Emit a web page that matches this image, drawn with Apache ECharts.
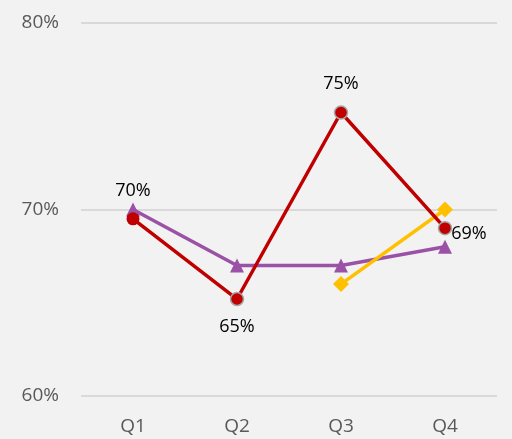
<!DOCTYPE html>
<html><head><meta charset="utf-8">
<script src="https://cdn.jsdelivr.net/npm/echarts@6/dist/echarts.min.js"></script>
<style>html,body{margin:0;padding:0;background:#f2f2f2}#c{width:512px;height:439px}</style>
</head><body><div id="c"></div>
<script>
const categories = ['Q1','Q2','Q3','Q4'];
const redValues = [69.5, 65.2, 75.2, 69.0];
const redLabels = ['70%','65%','75%','69%'];
const purpleValues = [70, 67, 67, 68];
const yellowValues = [null, null, 66, 70];
const yTicks = [60, 70, 80];

const labelPos = ['top','bottom','top','right'];
const labelOffset = [[0, -2], [0, 2], [0, -2], [-11, 6]];
const chart = echarts.init(document.getElementById('c'));
chart.setOption({
  backgroundColor: '#f2f2f2',
  animation: false,
  grid: {left: 81, right: 15, top: 23, bottom: 43},
  xAxis: {
    type: 'category', data: categories, boundaryGap: true,
    axisLine: {show: false}, axisTick: {show: false},
    axisLabel: {color: '#595959', fontSize: 19, margin: 21, fontFamily: 'Open Sans'}
  },
  yAxis: {
    type: 'value', min: yTicks[0], max: yTicks[yTicks.length-1], interval: 10,
    axisLine: {show: false}, axisTick: {show: false},
    splitLine: {lineStyle: {color: '#d9d9d9', width: 2}},
    axisLabel: {color: '#595959', fontSize: 19, margin: 22, fontFamily: 'Open Sans', formatter: v => v + '%'}
  },
  series: [
    {
      type: 'line', data: purpleValues, symbol: 'triangle', symbolSize: 14,
      lineStyle: {color: '#9b51a6', width: 3.5}, itemStyle: {color: '#9b51a6'}
    },
    {
      type: 'line', data: yellowValues, symbol: 'diamond', symbolSize: 16,
      lineStyle: {color: '#ffc000', width: 3.5}, itemStyle: {color: '#ffc000'}
    },
    {
      type: 'line', z: 5,
      data: redValues.map((v, i) => ({
        value: v,
        itemStyle: i === 0 ? {borderWidth: 0} : {borderColor: '#a6a6a6', borderWidth: 1.5},
        label: {position: labelPos[i], formatter: redLabels[i], distance: 10, offset: labelOffset[i]}
      })),
      symbol: 'circle', symbolSize: 13,
      lineStyle: {color: '#c00000', width: 3.5}, itemStyle: {color: '#c00000'},
      label: {show: true, color: '#000', fontSize: 18, fontFamily: 'Open Sans'}
    }
  ]
});
</script></body></html>
